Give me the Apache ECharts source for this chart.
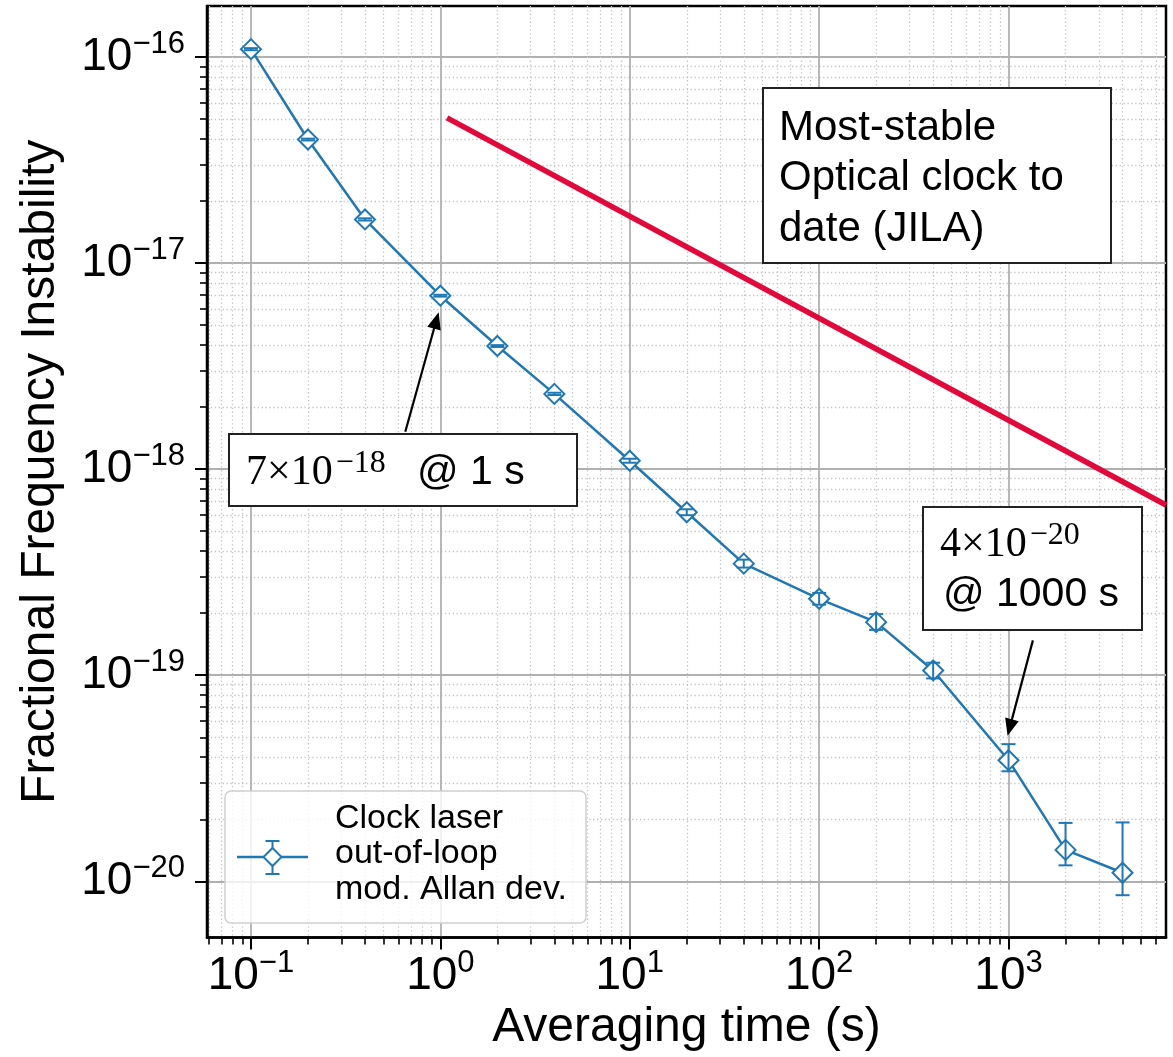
<!DOCTYPE html>
<html><head><meta charset="utf-8">
<script src="https://cdn.jsdelivr.net/npm/echarts@6/dist/echarts.min.js"></script>
<style>html,body{margin:0;padding:0;background:#fff}#c{width:1173px;height:1057px}</style>
</head><body><div id="c"></div>
<script>
// ---- data ----
const tau      = [0.1, 0.2, 0.4, 1, 2, 4, 10, 20, 40, 100, 200, 400, 1000, 2000, 4000];
const modADev  = [1.093e-16, 3.98e-17, 1.63e-17, 6.95e-18, 3.96e-18, 2.32e-18, 1.099e-18, 6.18e-19, 3.48e-19, 2.35e-19, 1.81e-19, 1.055e-19, 3.87e-20, 1.42e-20, 1.10e-20];
const errLow   = [1.08e-16, 3.94e-17, 1.61e-17, 6.88e-18, 3.92e-18, 2.29e-18, 1.075e-18, 5.98e-19, 3.33e-19, 2.20e-19, 1.66e-19, 9.65e-20, 3.42e-20, 1.195e-20, 8.56e-21];
const errHigh  = [1.105e-16, 4.02e-17, 1.65e-17, 7.02e-18, 4.00e-18, 2.35e-18, 1.124e-18, 6.39e-19, 3.64e-19, 2.51e-19, 1.98e-19, 1.15e-19, 4.63e-20, 1.92e-20, 1.93e-20];
const jilaTau  = [1.085, 6784];
const jilaADev = [5.07e-17, 6.70e-19];
const xMajorTicks = [0.1, 1, 10, 100, 1000];
const yMajorTicks = [1e-20, 1e-19, 1e-18, 1e-17, 1e-16];
const xRange = [0.0586, 6784];
const yRange = [5.33e-21, 1.77e-16];
// arrows: [tail, arrow-head centre] in data coordinates
const arrow1 = [[0.653, 1.52e-18], [0.952, 5.27e-18]];
const arrow2 = [[1345, 1.476e-19], [1015, 5.57e-20]];
const seriesName = 'Clock laser\nout-of-loop\nmod. Allan dev.';

function minorTicks(lo, hi) {
  const out = [];
  for (let d = Math.floor(Math.log10(lo)); d <= Math.ceil(Math.log10(hi)); d++) {
    for (let k = 2; k <= 9; k++) {
      const v = +(k * Math.pow(10, d)).toPrecision(6);
      if (v > lo && v < hi) out.push(v);
    }
  }
  return out;
}
const xMinorTicks = minorTicks(xRange[0], xRange[1]);
const yMinorTicks = minorTicks(yRange[0], yRange[1]);

const BLUE = '#1f77b4', RED = '#e2083a', SANS = 'Liberation Sans', SERIF = 'Liberation Serif';

function powLabel(v) {
  const e = Math.round(Math.log10(v));
  return '{b|10}{s|' + (e < 0 ? '\u2212' : '') + Math.abs(e) + '}';
}
const labelRich = {
  b: { fontFamily: SANS, fontSize: 46, lineHeight: 57, color: '#000', verticalAlign: 'middle' },
  s: { fontFamily: SANS, fontSize: 31, lineHeight: 31, color: '#000', verticalAlign: 'top' }
};

function mainAxis(range, ticks, extra) {
  return Object.assign({
    type: 'log', logBase: 10, min: range[0], max: range[1], gridIndex: 0,
    axisLine: { show: true, onZero: false, lineStyle: { color: '#000', width: 2.5 } },
    axisTick: { show: true, inside: false, length: 12, customValues: ticks, lineStyle: { color: '#000', width: 2 } },
    splitLine: { show: true, lineStyle: { color: '#b0b0b0', width: 1.8 } },
    minorTick: { show: false }, minorSplitLine: { show: false }
  }, extra);
}
function minorAxis(range, ticks, pos) {
  return {
    type: 'log', logBase: 10, min: range[0], max: range[1], gridIndex: 0, position: pos,
    axisLine: { show: false },
    axisTick: { show: true, inside: false, length: 7, customValues: ticks, lineStyle: { color: '#000', width: 1.6 } },
    axisLabel: { show: false },
    splitLine: { show: true, lineStyle: { color: '#c4c4c4', width: 1.3, type: [1.3, 2.6] } }
  };
}

const mainData = tau.map((t, i) => [t, modADev[i]]);
const errData  = tau.map((t, i) => [t, errLow[i], errHigh[i]]);
const jilaData = jilaTau.map((t, i) => [t, jilaADev[i]]);

const chart = echarts.init(document.getElementById('c'), null, { renderer: 'canvas' });

function richLine(x, y, text, rich) {
  return { type: 'text', x: x, y: y, z: 30, style: { text: text, fill: '#000', align: 'left', verticalAlign: 'middle', rich: rich } };
}
function plainLine(x, y, text, size) {
  return { type: 'text', x: x, y: y, z: 30, style: { text: text, fill: '#000', align: 'left', verticalAlign: 'middle', fontFamily: SANS, fontSize: size } };
}
const boxRich = {
  m: { fontFamily: SERIF, fontSize: 42, lineHeight: 50, color: '#111', verticalAlign: 'middle' },
  s: { fontFamily: SERIF, fontSize: 32, lineHeight: 30, color: '#111', verticalAlign: 'top', padding: [0, 0, 0, 3] }
};

const option = {
  animation: false,
  backgroundColor: '#fff',
  grid: { left: 207, right: 7, top: 6, bottom: 117, show: true, borderColor: '#000', borderWidth: 2.5, backgroundColor: 'transparent', containLabel: false },
  xAxis: [
    mainAxis(xRange, xMajorTicks, {
      position: 'bottom',
      axisLabel: { show: true, customValues: xMajorTicks, formatter: powLabel, rich: labelRich, margin: 10 },
      name: 'Averaging time (s)', nameLocation: 'middle', nameGap: 62,
      nameTextStyle: { fontFamily: SANS, fontSize: 48, color: '#000' }
    }),
    minorAxis(xRange, xMinorTicks, 'bottom')
  ],
  yAxis: [
    mainAxis(yRange, yMajorTicks, {
      position: 'left',
      axisLabel: { show: true, customValues: yMajorTicks, formatter: powLabel, rich: labelRich, margin: 22 },
      name: 'Fractional Frequency Instability', nameLocation: 'middle', nameGap: 142, nameRotate: 90,
      nameTextStyle: { fontFamily: SANS, fontSize: 48, color: '#000' }
    }),
    minorAxis(yRange, yMinorTicks, 'left')
  ],
  series: [
    {
      name: 'JILA', type: 'line', xAxisIndex: 0, yAxisIndex: 0, data: jilaData,
      symbol: 'none', lineStyle: { color: RED, width: 5.5 }, itemStyle: { color: RED }, z: 4, silent: true
    },
    {
      name: seriesName, type: 'line', xAxisIndex: 0, yAxisIndex: 0, data: mainData,
      symbol: 'diamond', symbolSize: 20, showAllSymbol: true,
      lineStyle: { color: BLUE, width: 2.5 },
      itemStyle: { color: '#fff', borderColor: BLUE, borderWidth: 2 },
      z: 5, silent: true,
      markLine: {
        silent: true, animation: false,
        symbol: ['none', 'triangle'], symbolSize: [14, 17],
        lineStyle: { color: '#000', width: 2.2, type: 'solid' },
        itemStyle: { color: '#000' },
        label: { show: false },
        data: [
          [{ coord: arrow1[0] }, { coord: arrow1[1] }],
          [{ coord: arrow2[0] }, { coord: arrow2[1] }]
        ]
      }
    },
    {
      name: 'err', type: 'custom', xAxisIndex: 0, yAxisIndex: 0, data: errData, z: 6, silent: true,
      encode: { x: 0, y: [1, 2] },
      renderItem: function (params, api) {
        const x = api.value(0);
        const lo = api.coord([x, api.value(1)]);
        const hi = api.coord([x, api.value(2)]);
        const w = 7;
        const st = { stroke: BLUE, lineWidth: 2, fill: null };
        return { type: 'group', children: [
          { type: 'line', shape: { x1: lo[0], y1: lo[1], x2: hi[0], y2: hi[1] }, style: st },
          { type: 'line', shape: { x1: lo[0] - w, y1: lo[1], x2: lo[0] + w, y2: lo[1] }, style: st },
          { type: 'line', shape: { x1: hi[0] - w, y1: hi[1], x2: hi[0] + w, y2: hi[1] }, style: st }
        ] };
      }
    }
  ],
  graphic: { elements: [
    // annotation box: most stable clock
    { type: 'rect', z: 20, shape: { x: 763, y: 88, width: 348, height: 175 }, style: { fill: '#fff', stroke: '#222', lineWidth: 2 } },
    plainLine(779, 128, 'Most-stable', 42),
    plainLine(779, 178, 'Optical clock to', 42),
    plainLine(779, 229, 'date (JILA)', 42),
    // annotation box: 1 s
    { type: 'rect', z: 20, shape: { x: 229, y: 434, width: 348, height: 72 }, style: { fill: '#fff', stroke: '#222', lineWidth: 2 } },
    richLine(246, 473, '{m|7×10}{s|\u221218}', boxRich),
    plainLine(417, 473, '@ 1 s', 41),
    // annotation box: 1000 s
    { type: 'rect', z: 20, shape: { x: 923, y: 507, width: 219, height: 123 }, style: { fill: '#fff', stroke: '#222', lineWidth: 2 } },
    richLine(940, 545, '{m|4×10}{s|\u221220}', boxRich),
    plainLine(943, 595, '@ 1000 s', 41),
    // legend
    { type: 'rect', z: 20, shape: { x: 225, y: 791, width: 361, height: 132, r: 6 }, style: { fill: 'rgba(255,255,255,0.8)', stroke: '#d0d0d0', lineWidth: 1.5 } },
    { type: 'line', z: 21, shape: { x1: 237, y1: 857, x2: 308, y2: 857 }, style: { stroke: BLUE, lineWidth: 2.5 } },
    { type: 'line', z: 21, shape: { x1: 272.5, y1: 841, x2: 272.5, y2: 874 }, style: { stroke: BLUE, lineWidth: 2 } },
    { type: 'line', z: 21, shape: { x1: 265.5, y1: 841, x2: 279.5, y2: 841 }, style: { stroke: BLUE, lineWidth: 2 } },
    { type: 'line', z: 21, shape: { x1: 265.5, y1: 874, x2: 279.5, y2: 874 }, style: { stroke: BLUE, lineWidth: 2 } },
    { type: 'polygon', z: 22, shape: { points: [[272.5, 848], [281.5, 857], [272.5, 866], [263.5, 857]] }, style: { fill: '#fff', stroke: BLUE, lineWidth: 2 } },
    plainLine(335, 818.8, seriesName.split('\n')[0], 34),
    plainLine(335, 853.8, seriesName.split('\n')[1], 34),
    plainLine(335, 889.5, seriesName.split('\n')[2], 34)
  ] }
};
chart.setOption(option);
</script>
</body></html>
